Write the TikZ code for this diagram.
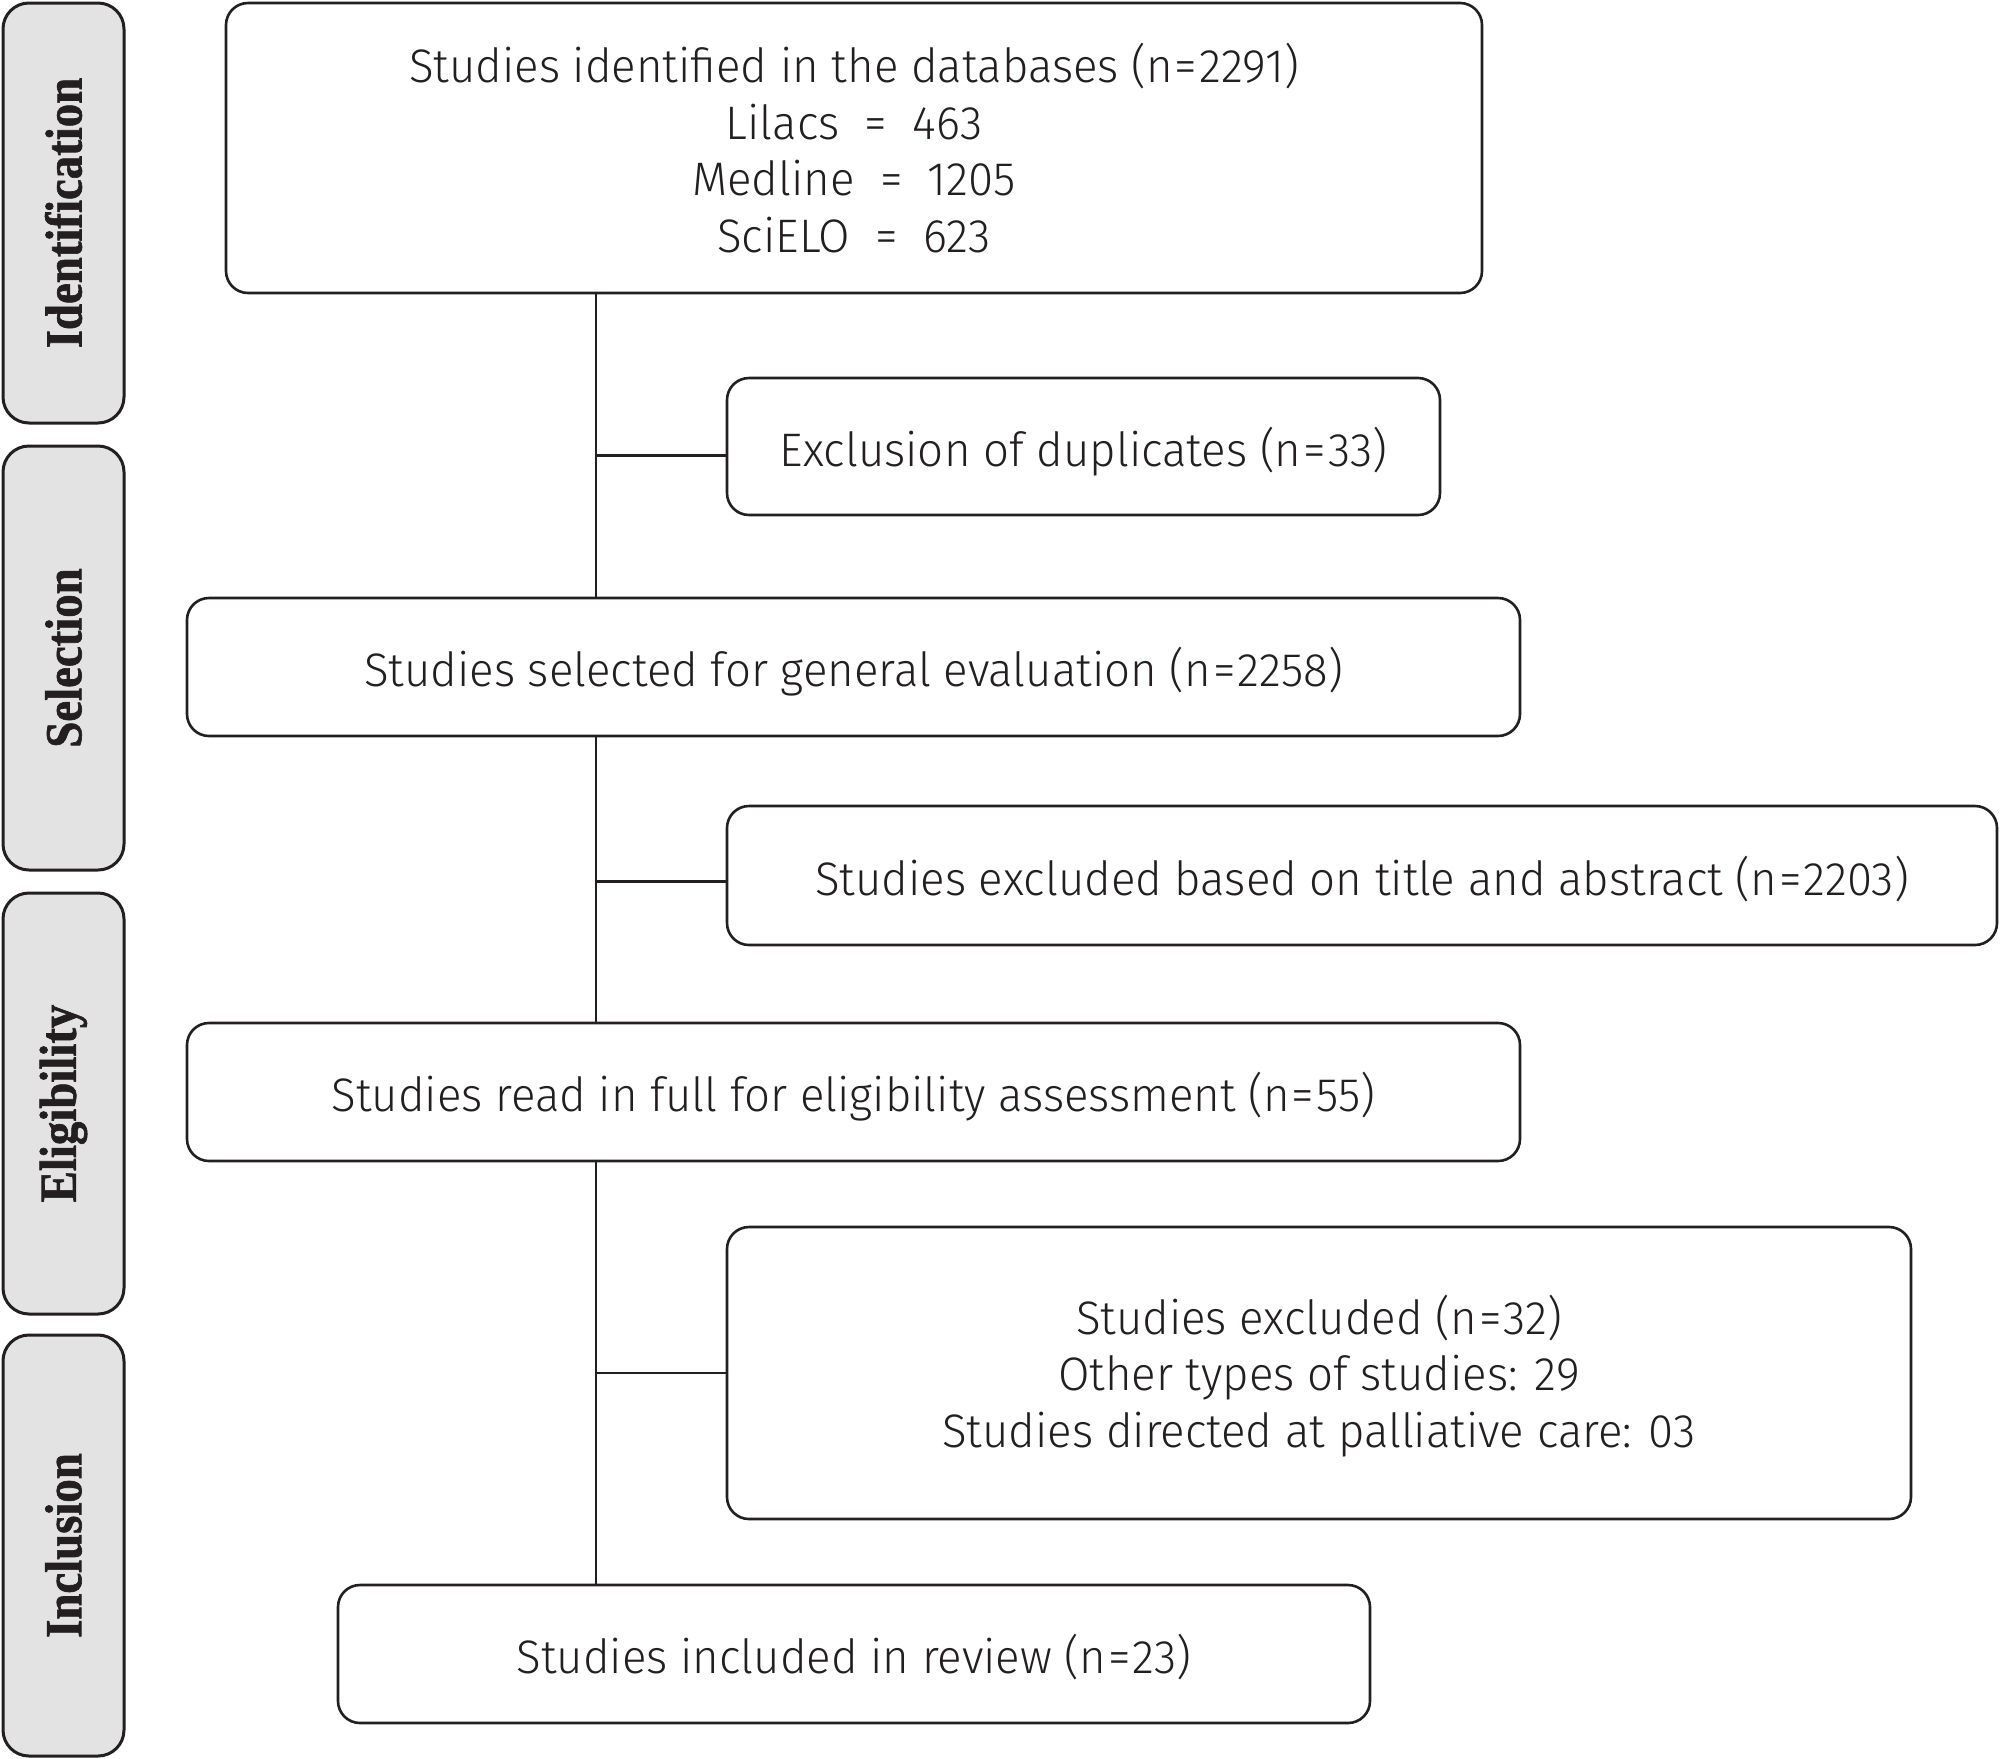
\documentclass[tikz,border=0pt]{standalone}
\usepackage{fontspec}
\IfFontExistsTF{Fira Sans Light}{\setmainfont{Fira Sans Light}[FakeStretch=0.97]}{\setmainfont{Fira Sans}[FakeStretch=0.97]}
\newfontfamily\tabfont{Liberation Serif}[FakeStretch=0.9, FakeBold=1.2]
\newcommand\eqsgn{\kern2pt=\kern2pt}
\definecolor{ink}{HTML}{231F20}
\definecolor{tabgray}{HTML}{E3E3E3}
\tikzset{
  box/.style={draw=ink, line width=2.6pt, rounded corners=22pt, fill=white, align=center,
    inner sep=0pt, text=ink, font=\fontsize{47}{56.5}\selectfont},
  onebox/.style={box, text depth=0pt},
  tab/.style={draw=ink, line width=3pt, rounded corners=26pt, fill=tabgray, rotate=90,
    inner sep=0pt, minimum height=121pt, text=ink, font=\tabfont\bfseries\fontsize{52}{56}\selectfont},
  link/.style={draw=ink, line width=2.6pt}
}
\begin{document}
\begin{tikzpicture}[x=1pt,y=-1pt]
\useasboundingbox (0,0) rectangle (2000,1759);
% stage tabs
\node[tab, minimum width=420pt] (tid) at (63.5,213) {Identification};
\node[tab, minimum width=424pt] (tsel) at (63.5,658) {Selection};
\node[tab, minimum width=421pt] (telig) at (63.5,1103.5) {Eligibility};
\node[tab, minimum width=421pt] (tinc) at (63.5,1545.5) {Inclusion};
% boxes
\node[box, minimum width=1256pt, minimum height=290pt] (top) at (854,148)
  {Studies identified in the databases (n\eqsgn 2291)\\ Lilacs\ \ =\ \ 463\\ Medline\ \ =\ \ 1205\\ SciELO\ \ =\ \ 623};
\node[onebox, minimum width=713pt, minimum height=137pt] (dup) at (1083.5,446.5)
  {Exclusion of duplicates (n\eqsgn 33)};
\node[onebox, minimum width=1333pt, minimum height=138pt] (sel) at (853.5,667)
  {Studies selected for general evaluation (n\eqsgn 2258)};
\node[onebox, minimum width=1270pt, minimum height=139pt] (tit) at (1362,875.5)
  {Studies excluded based on title and abstract (n\eqsgn 2203)};
\node[onebox, minimum width=1333pt, minimum height=138pt] (full) at (853.5,1092)
  {Studies read in full for eligibility assessment (n\eqsgn 55)};
\node[box, text depth=4pt, minimum width=1184pt, minimum height=292pt] (ex) at (1319,1373)
  {Studies excluded (n\eqsgn 32)\\ Other types of studies: 29\\ Studies directed at palliative care: 03};
\node[onebox, minimum width=1032pt, minimum height=138pt] (inc) at (854,1654)
  {Studies included in review (n\eqsgn 23)};
% connectors
\coordinate (tx) at (596,0);
\draw[link] (top.south -| tx) -- (sel.north -| tx);
\draw[link] (sel.south -| tx) -- (full.north -| tx);
\draw[link] (full.south -| tx) -- (inc.north -| tx);
\draw[link] ([yshift=-9pt]dup.west) -- ([yshift=-9pt]dup.west -| tx);
\draw[link] ([yshift=-6pt]tit.west) -- ([yshift=-6pt]tit.west -| tx);
\draw[link] (ex.west) -- (ex.west -| tx);
\end{tikzpicture}
\end{document}
